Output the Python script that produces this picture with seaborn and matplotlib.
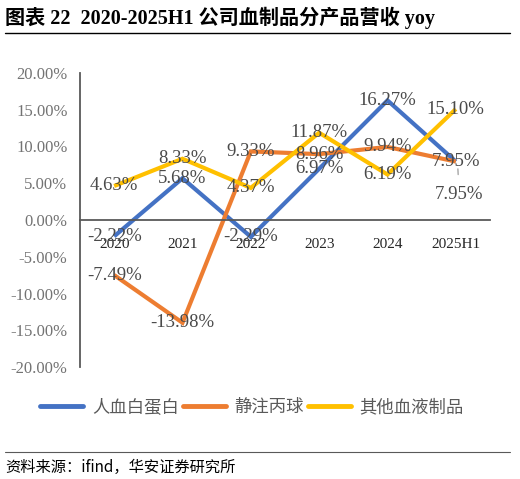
import matplotlib
matplotlib.use("Agg")
import matplotlib.pyplot as plt
import seaborn as sns
import pandas as pd
from matplotlib.lines import Line2D

sns.set_theme(style="white")
plt.rcParams['font.family'] = ['Liberation Serif', 'Noto Sans CJK SC', 'DejaVu Sans']

categories = ["2020", "2021", "2022", "2023", "2024", "2025H1"]
series_names = ["人血白蛋白", "静注丙球", "其他血液制品"]
albumin = [-2.22, 5.68, -2.29, 6.97, 16.27, 7.95]
ivig = [-7.49, -13.98, 9.33, 8.96, 9.94, 7.95]
others = [4.63, 8.33, 4.37, 11.87, 6.19, 15.10]
yticks = [-20, -15, -10, -5, 0, 5, 10, 15, 20]
colors = ["#4472C4", "#ED7D31", "#FFC000"]

rows = []
for name, vals in zip(series_names, [albumin, ivig, others]):
    for i, (c, v) in enumerate(zip(categories, vals)):
        rows.append({"year": c, "idx": i, "value": v, "series": name})
df = pd.DataFrame(rows)

fig = plt.figure(figsize=(5.2, 4.79), dpi=100)
ax = fig.add_axes([80/520, 1-367/479, 410/520, 294/479])

sns.lineplot(data=df, x="idx", y="value", hue="series", hue_order=series_names,
             palette=colors, linewidth=3.0, ax=ax, legend=False, sort=False)
for l in ax.lines:
    l.set_solid_joinstyle("miter")
    l.set_solid_capstyle("butt")

ax.set_xlim(-0.5, 5.5)
ax.set_ylim(-20, 20)
ax.set_yticks(yticks)
ax.set_yticklabels([f"{t:.2f}%" for t in yticks], fontsize=12, color="#737373")
ax.set_xticks(range(len(categories)))
ax.set_xticklabels(categories, fontsize=11.5, color="#737373")
ax.tick_params(axis="both", length=0)
ax.tick_params(axis="x", pad=13)
ax.tick_params(axis="y", pad=9)
ax.set_xlabel("")
ax.set_ylabel("")
for s in ["top", "right"]:
    ax.spines[s].set_visible(False)
ax.spines["left"].set_color("#595959")
ax.spines["left"].set_linewidth(1.3)
ax.spines["bottom"].set_position(("data", 0))
ax.spines["bottom"].set_color("#595959")
ax.spines["bottom"].set_linewidth(1.3)
ax.grid(False)

lab_color = "#4a4a4a"
for name, vals in zip(series_names, [albumin, ivig, others]):
    for i, v in enumerate(vals):
        if name == "人血白蛋白" and i == 5:
            ax.annotate(f"{v:.2f}%", xy=(i + 0.03, v - 1.0), xytext=(i + 0.05, v - 4.5),
                        ha="center", va="center", fontsize=13.5, color=lab_color,
                        arrowprops=dict(arrowstyle="-", color="#a6a6a6", lw=1.0,
                                        shrinkA=6, shrinkB=0))
        else:
            ax.text(i, v, f"{v:.2f}%", ha="center", va="center",
                    fontsize=13.5, color=lab_color)

handles = [Line2D([0], [0], color=c, lw=3.5) for c in colors]
fig.legend(handles, series_names, loc="center", bbox_to_anchor=(252/520, 1-407/479),
           ncol=3, frameon=False, handlelength=2.5, handletextpad=0.5, columnspacing=0.2,
           prop={"family": ["Noto Sans CJK SC"], "size": 12.5}, labelcolor="#595959")

fig.text(5/520, 1-18/479, "图表 22  2020-2025H1 公司血制品分产品营收 yoy",
         ha="left", va="center", fontsize=14.5, fontweight="bold", color="black",
         family=["Liberation Serif", "Noto Sans CJK SC"])
fig.add_artist(Line2D([5/520, 510/520], [1-33/479, 1-33/479], color="black", lw=1.0))
fig.add_artist(Line2D([5/520, 510/520], [1-452/479, 1-452/479], color="#595959", lw=0.8))
fig.text(5/520, 1-467/479, "资料来源：ifind，华安证券研究所", ha="left", va="center",
         fontsize=11, color="black", family=["Noto Sans CJK SC", "DejaVu Sans"])

fig.savefig("out.png", dpi=100)
